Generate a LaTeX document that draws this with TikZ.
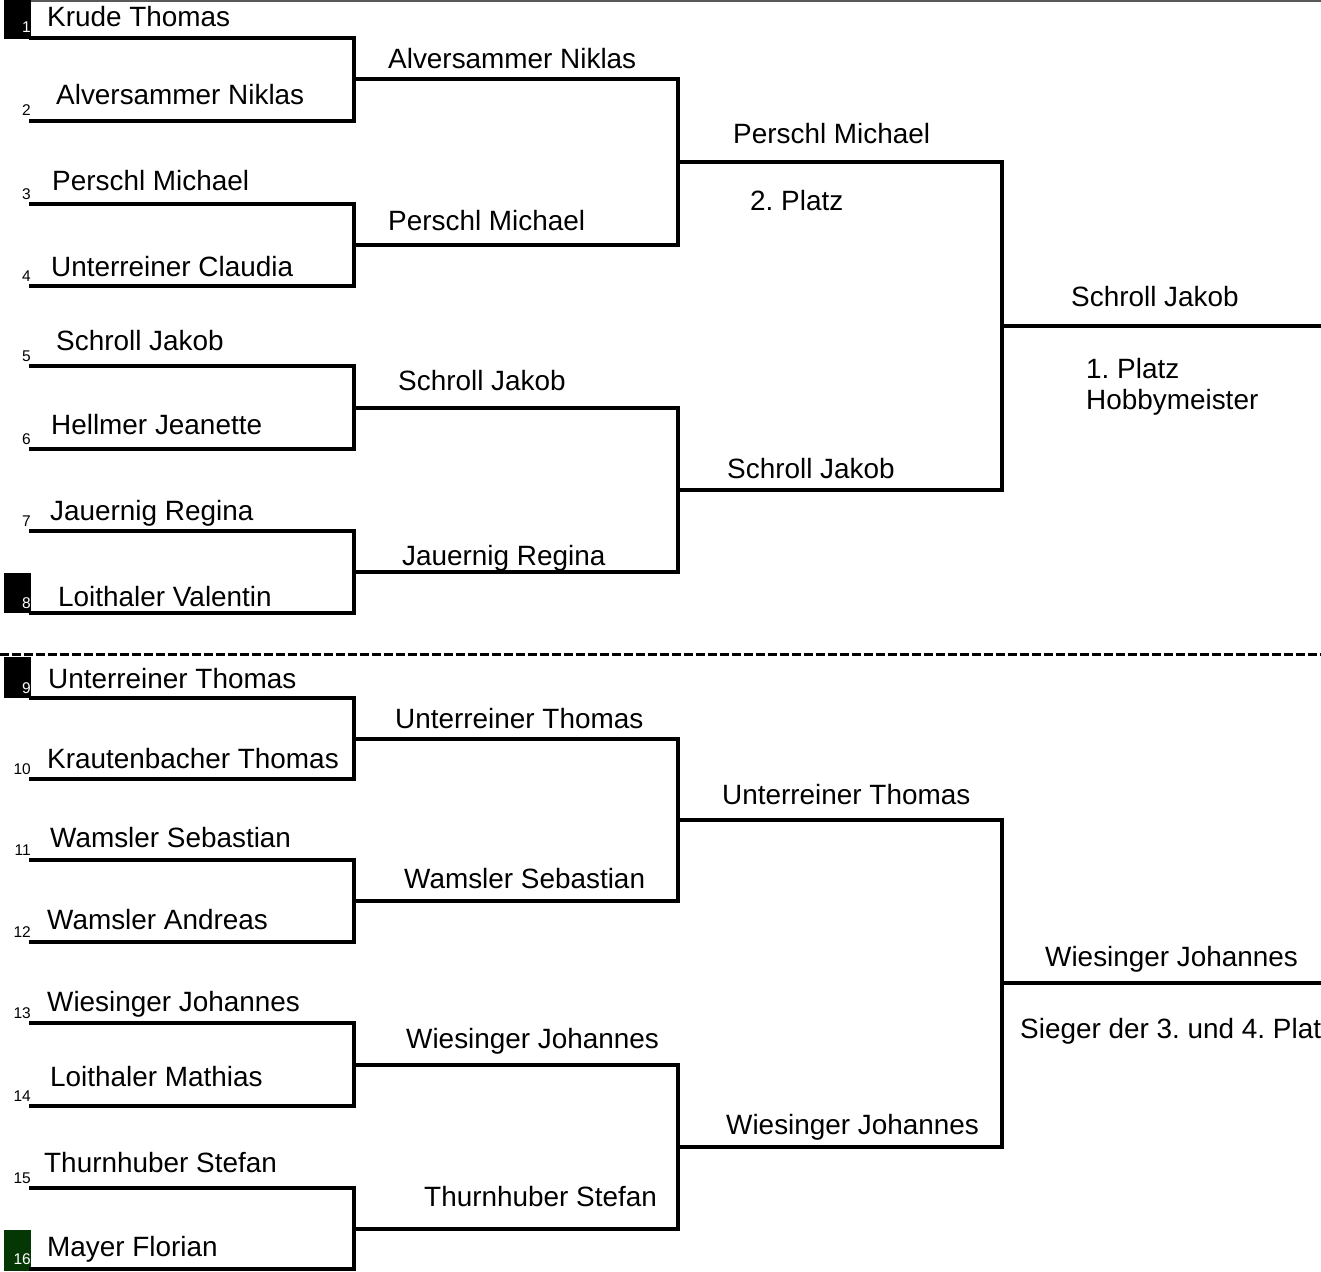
\documentclass[tikz,border=0pt]{standalone}
\usepackage{fontspec}
\setmainfont{Liberation Sans}
\usetikzlibrary{calc}
\definecolor{seedgreen}{RGB}{5,55,5}
\frenchspacing
\begin{document}
\begin{tikzpicture}[x=1pt,y=-1pt,
  bline/.style={line width=4pt,line cap=rect,line join=miter},
  pname/.style={anchor=base west,inner sep=0pt,font=\fontsize{27.9}{30}\selectfont},
  seednum/.style={anchor=base east,inner sep=0pt,font=\fontsize{15.5}{17}\selectfont},
  seedbox/.style={fill=black,draw=none}]
\useasboundingbox (0,0) rectangle (1321,1271);
\clip (0,0) rectangle (1321,1271);
% top border
\draw[gray!70!black,line width=1.5pt] (30,0.8) -- (1321,0.8);
% seed boxes
\fill[seedbox] (4,0) rectangle (31,39);
\fill[seedbox] (4,573) rectangle (31,613);
\fill[seedbox] (4,657) rectangle (31,698);
\fill[seedgreen] (4,1230) rectangle (31,1271);
% player slot coordinates
\foreach \i/\y in {1/38,2/121,3/204,4/286,5/366,6/449,7/531,8/613,9/698,10/779,11/860,12/942,13/1023,14/1106,15/1188,16/1269}{
  \coordinate (p\i) at (31,\y);
  \coordinate (q\i) at (354,\y);
}
% round 1 brackets
\foreach \a/\b/\k in {1/2/1,3/4/2,5/6/3,7/8/4,9/10/5,11/12/6,13/14/7,15/16/8}{
  \draw[bline] (p\a) -- (q\a) -- (q\b) -- (p\b);
  \coordinate (r\k) at ($(q\a)!0.5!(q\b)$);
  \coordinate (s\k) at ($(r\k)+(324,0)$);
}
% round 2 brackets
\foreach \a/\b/\k in {1/2/1,3/4/2,5/6/3,7/8/4}{
  \draw[bline] (r\a) -- (s\a) -- (s\b) -- (r\b);
  \coordinate (t\k) at ($(s\a)!0.5!(s\b)$);
  \coordinate (u\k) at ($(t\k)+(324,0)$);
}
% round 3 brackets
\foreach \a/\b/\k in {1/2/1,3/4/2}{
  \draw[bline] (t\a) -- (u\a) -- (u\b) -- (t\b);
  \coordinate (v\k) at ($(u\a)!0.5!(u\b)$);
  \coordinate (w\k) at ($(v\k)+(330,0)$);
}
\draw[bline,line cap=butt] (v1) -- (w1);
\draw[bline,line cap=butt] (v2) -- (w2);
% dashed separator
\coordinate (dl) at (0,654);
\coordinate (dr) at (1321,654);
\draw[line width=3pt,dash pattern=on 9pt off 3pt] (dl) -- (dr);
% seed numbers
\foreach \i/\y/\c in {1/33/white,2/116/black,3/199/black,4/281/black,5/361/black,6/444/black,7/526/black,8/608/white,9/693/white,10/774/black,11/855/black,12/937/black,13/1018/black,14/1101/black,15/1183/black,16/1264/white}{
  \node[seednum,text=\c] (n\i) at (31,\y) {\i};
}
% round 1 names
\node[pname] (a1) at (47,27) {Krude Thomas};
\node[pname] (a2) at (56,105) {Alversammer Niklas};
\node[pname] (a3) at (52,190) {Perschl Michael};
\node[pname] (a4) at (51,276) {Unterreiner Claudia};
\node[pname] (a5) at (56,350) {Schroll Jakob};
\node[pname] (a6) at (51,434) {Hellmer Jeanette};
\node[pname] (a7) at (50,520) {Jauernig Regina};
\node[pname] (a8) at (58,606) {Loithaler Valentin};
\node[pname] (a9) at (48,688) {Unterreiner Thomas};
\node[pname] (a10) at (47,768) {Krautenbacher Thomas};
\node[pname] (a11) at (50,847) {Wamsler Sebastian};
\node[pname] (a12) at (47,929) {Wamsler Andreas};
\node[pname] (a13) at (47,1011) {Wiesinger Johannes};
\node[pname] (a14) at (50,1086) {Loithaler Mathias};
\node[pname] (a15) at (44,1172) {Thurnhuber Stefan};
\node[pname] (a16) at (47,1256) {Mayer Florian};
% round 2 names
\node[pname] (b1) at (388,69) {Alversammer Niklas};
\node[pname] (b2) at (388,230) {Perschl Michael};
\node[pname] (b3) at (398,390) {Schroll Jakob};
\node[pname] (b4) at (402,565) {Jauernig Regina};
\node[pname] (b5) at (395,728) {Unterreiner Thomas};
\node[pname] (b6) at (404,888) {Wamsler Sebastian};
\node[pname] (b7) at (406,1048) {Wiesinger Johannes};
\node[pname] (b8) at (424,1206) {Thurnhuber Stefan};
% round 3 names
\node[pname] (c1) at (733,143) {Perschl Michael};
\node[pname] (c1x) at (750,210) {2. Platz};
\node[pname] (c2) at (727,478) {Schroll Jakob};
\node[pname] (c3) at (722,804) {Unterreiner Thomas};
\node[pname] (c4) at (726,1134) {Wiesinger Johannes};
% finals
\node[pname] (d1) at (1071,306) {Schroll Jakob};
\node[pname] (d1a) at (1086,378) {1. Platz};
\node[pname] (d1b) at (1086,409) {Hobbymeister};
\node[pname] (d2) at (1045,966) {Wiesinger Johannes};
\node[pname] (d2a) at (1020,1038) {Sieger der 3. und 4. Platz};
\end{tikzpicture}
\end{document}
